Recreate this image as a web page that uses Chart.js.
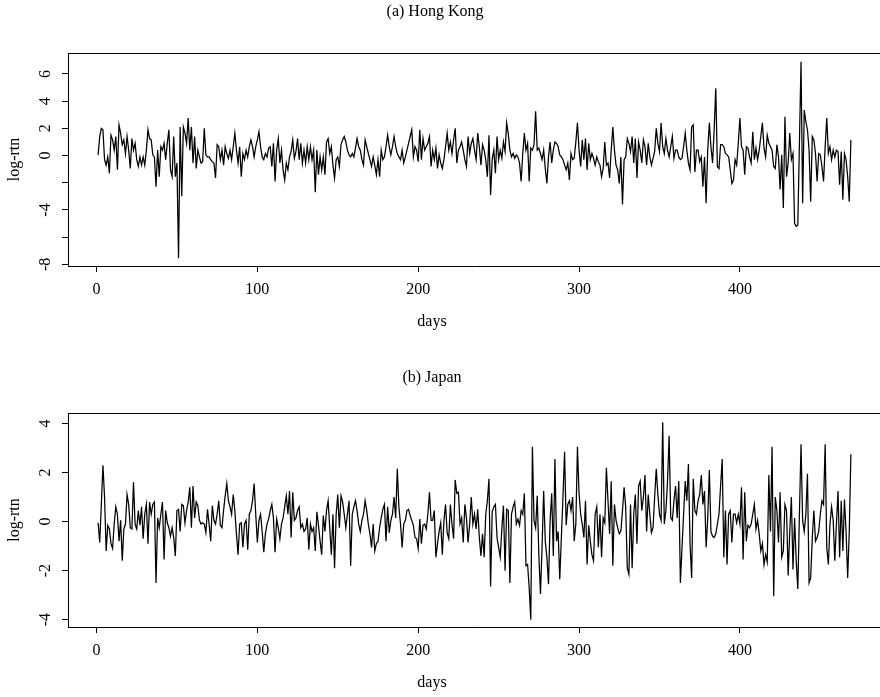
<!DOCTYPE html>
<html><head><meta charset="utf-8">
<script src="https://cdn.jsdelivr.net/npm/chart.js@4/dist/chart.umd.min.js"></script>
<style>
html,body{margin:0;padding:0;background:#fff;overflow:hidden;width:880px;height:697px;}
#wrap{position:relative;width:880px;height:697px;}
.cv{position:absolute;left:0;}
.lbl{position:absolute;font-family:"Liberation Serif","Times New Roman",serif;font-size:16px;line-height:20px;color:#000;white-space:nowrap;transform:translateX(-50%);}
</style></head><body>
<div id="wrap">
<div class="cv" style="top:0;width:880px;height:348px"><canvas id="c1"></canvas></div>
<div class="cv" style="top:360px;width:880px;height:337px"><canvas id="c2"></canvas></div>
<div class="lbl" style="left:435px;top:1px">(a) Hong Kong</div>
<div class="lbl" style="left:432px;top:311px">days</div>
<div class="lbl" style="left:432px;top:367px">(b) Japan</div>
<div class="lbl" style="left:432px;top:672px">days</div>
</div>
<script>
const hkTitle = "(a) Hong Kong";
const jpTitle = "(b) Japan";
const xTicks = [0, 100, 200, 300, 400];
const hkYTicks = [-8, -6, -4, -2, 0, 2, 4, 6];
const hkYLabels = [6, 4, 2, 0, -4, -8];
const jpYTicks = [-4, -2, 0, 2, 4];
const jpYLabels = [-4, -2, 0, 2, 4];

const hkReturns = [
0.05,1.4,2.0,1.9,-0.3,-0.7,-0.1,-1.3,1.5,1.15,
0.4,1.4,-1.05,2.25,1.65,0.8,1.15,0.15,1.4,0.4,
-0.95,1.25,0.4,0.9,-0.3,-0.8,-0.1,-0.7,-0.1,-0.7,
0.4,1.9,1.25,1.15,0.05,-0.1,-2.3,0.4,-1.55,0.65,
0.4,0.9,-0.3,0.9,1.9,-1.05,-1.55,1.4,-1.55,-0.55,
-7.55,2.1,-3.0,2.1,1.65,0.9,2.75,0.4,2.1,-0.55,
1.4,-0.95,0.4,-0.1,-0.55,-0.45,2.0,0.05,-0.1,-0.1,
-0.3,-0.45,-0.55,-1.65,0.8,0.65,-0.3,0.4,-0.7,0.65,
0.15,-0.2,0.4,-0.3,0.65,1.65,0.4,-0.55,0.65,-1.55,
0.15,-0.3,0.4,-0.1,0.65,1.15,
0.65,-0.1,0.65,1.15,1.75,0.65,-0.1,-0.3,0.15,-0.1,
0.55,0.65,-0.8,0.9,-1.9,0.4,1.25,-0.55,0.4,-1.05,
-1.8,-0.55,-1.05,-0.1,0.3,1.15,-0.2,0.3,1.25,-0.3,
0.9,-0.55,0.4,-0.55,0.65,-0.3,0.65,-0.3,0.4,-2.7,
0.4,-1.4,-0.1,-1.05,-0.1,-1.4,1.0,1.25,0.15,0.65,
-0.7,-1.65,-0.3,-0.1,-0.8,0.8,1.15,1.4,1.0,0.4,
0.05,-0.1,0.15,-0.1,0.55,1.25,0.65,0.4,-0.3,-0.7,
1.15,0.65,0.15,-0.3,-0.8,-0.1,-0.7,-1.4,-0.3,-1.55,
0.4,-0.3,-0.1,0.65,1.5,0.65,0.05,0.65,1.4,0.65,
0.15,-0.1,-0.3,0.4,-0.55,-0.1,0.4,0.9,1.4,1.9,
-0.1,0.65,0.4,-0.45,1.9,-0.3,1.25,0.4,0.65,0.9,
1.4,-0.8,0.4,-0.3,0.55,-0.95,0.05,-0.55,-0.95,-0.3,
0.65,1.65,0.4,1.0,0.15,1.15,2.0,-0.55,0.4,0.65,
1.0,0.4,-0.3,-0.8,1.4,0.15,0.9,1.25,0.4,-0.3,
1.65,0.65,-0.7,0.8,0.4,-0.3,-1.55,1.5,-2.9,-0.3,
0.4,-1.3,1.4,-0.3,0.4,-0.2,1.0,0.3,2.4,1.6,
0.4,-0.1,0.15,-0.2,0.05,-0.1,-0.55,-1.9,0.15,1.65,
0.4,0.9,-1.9,0.55,0.4,0.8,3.25,0.4,0.55,0.15,
-0.3,0.4,-0.95,-2.05,-0.1,1.0,-0.55,0.4,1.0,0.9,
0.65,0.05,-0.1,-0.3,-0.7,-1.05,-0.55,-1.8,0.15,-0.3,
-0.2,1.0,2.4,0.4,-0.8,1.15,-0.3,1.25,-1.05,0.9,
-0.3,0.15,-0.2,-0.7,-0.1,-0.45,-0.7,-1.55,-0.95,1.0,
-0.7,-0.55,-1.65,0.4,2.1,0.4,-0.7,-1.05,-2.05,-0.1,
-3.6,-0.3,-0.1,1.25,0.9,0.3,1.4,-0.55,1.25,-1.65,
1.0,0.4,-0.55,1.15,0.65,-0.7,0.9,-0.1,-0.7,-0.2,
0.3,2.0,0.9,0.3,2.4,0.65,0.15,1.25,0.4,-0.1,
0.65,1.4,-0.2,0.4,0.4,-0.1,-0.3,-0.2,0.65,1.65,
0.4,-0.55,-1.05,2.1,2.25,-1.2,0.4,0.4,-0.45,-0.1,
-2.3,-0.1,-3.5,0.4,2.4,0.65,-0.55,1.9,4.95,-0.8,
-0.95,0.8,0.8,0.65,0.15,0.05,-0.1,-1.05,-2.05,-1.8,
-0.3,-0.7,0.9,2.75,0.65,0.4,-1.4,0.65,0.55,-0.1,
-0.55,1.75,-0.3,0.55,-0.3,0.4,1.4,2.4,0.55,-0.1,
1.5,0.9,0.65,0.4,-0.8,-0.95,0.8,-0.1,-2.5,0.05,
-3.85,2.85,-1.55,-0.55,1.65,-0.3,0.15,-5.0,-5.2,-5.1,
0.9,6.9,-3.5,3.35,2.5,1.9,0.4,-3.4,1.4,1.15,
0.15,-1.9,0.15,0.05,-0.8,-1.9,0.65,2.75,0.15,0.65,
-0.3,0.4,-0.1,0.4,0.3,-2.15,0.3,-3.25,0.15,-0.3,
-1.55,-3.4,1.15
];

const jpReturns = [
-0.05,-0.85,0.7,2.3,1.0,-1.2,-0.15,-0.3,-0.9,-1.1,
-0.1,0.6,0.3,-0.8,0.05,-1.6,-0.3,-0.1,1.1,0.7,
-0.25,-0.3,1.6,-0.1,-0.3,0.45,-0.15,0.6,-0.7,0.3,
0.7,-0.9,0.8,0.3,0.7,0.8,-2.5,0.15,-0.25,0.3,
0.8,-1.55,0.45,-0.05,-0.25,-0.6,-0.25,-0.65,-1.4,0.45,
0.5,-0.4,0.7,0.65,-0.05,0.45,0.8,1.4,-0.25,1.45,
0.15,0.8,0.65,0.05,-0.1,-0.05,-0.1,-0.45,0.5,-0.1,
-0.8,0.65,0.05,-0.1,0.3,0.85,-0.15,-0.25,0.45,1.05,
1.55,0.85,0.6,0.3,1.1,0.45,-0.5,-1.35,-0.1,-0.05,
-1.05,-0.1,0.05,-1.15,0.3,0.45,
0.85,1.55,0.3,-0.85,0.05,0.3,-0.4,-1.25,-0.5,-0.1,
0.1,0.45,0.7,0.15,-1.25,0.1,-0.25,-0.7,-0.1,0.15,
0.6,1.05,0.3,1.25,-0.65,1.2,0.05,0.15,0.45,0.6,
-0.25,-0.1,-0.4,-0.3,0.15,-1.15,-0.1,-0.4,-0.25,-1.2,
0.4,-0.15,-0.8,-1.35,0.25,-0.4,0.45,0.85,-0.25,-1.35,
0.3,-1.9,0.3,1.1,-0.25,1.05,0.8,0.3,-0.25,0.3,
0.85,-1.8,0.3,0.6,0.85,0.45,-0.1,-0.4,0.05,0.3,
0.85,0.45,-0.1,-0.5,-1.05,-0.1,-1.2,-0.9,-0.8,-0.25,
0.15,0.5,0.7,-0.8,0.6,-0.45,0.05,0.3,1.0,0.15,
2.15,0.6,-0.1,-1.05,-0.1,0.05,0.45,0.5,0.25,0.05,
-0.15,-0.65,-0.7,-1.1,0.1,-0.9,-0.15,-0.1,-0.3,0.3,
1.2,0.05,0.05,0.45,-1.45,-0.9,-0.4,-0.05,-1.35,0.05,
0.7,-0.45,-0.7,0.7,-0.1,-0.7,1.7,1.15,1.2,-0.1,
0.15,-0.85,0.7,0.15,-0.85,-0.1,1.0,-0.1,0.3,-0.3,
0.5,-0.65,-1.4,-0.5,-1.45,0.3,0.85,1.75,-2.65,0.4,
0.6,0.7,-0.65,-1.05,-1.45,-0.3,0.65,-2.0,0.5,0.45,
-2.5,0.3,0.6,0.8,-0.1,0.1,-0.15,0.45,0.3,1.15,
-1.8,-1.75,-2.7,-4.0,3.05,0.05,-0.25,1.05,-1.35,-2.95,
-1.05,1.25,-0.8,-1.45,-2.55,0.05,1.15,-1.4,2.55,-0.8,
-0.4,-2.35,-0.65,1.0,2.85,-0.15,0.7,0.85,0.45,1.0,
-0.8,-0.1,3.05,1.15,0.3,-0.1,-0.65,0.85,-1.75,-0.15,
-0.8,-1.35,-1.6,0.3,0.6,-1.05,0.3,-1.45,0.15,-0.05,
2.2,0.85,-0.5,1.65,-1.8,0.7,0.05,-0.25,-0.5,-0.4,
0.45,1.4,0.6,-1.9,-2.15,0.7,-1.9,0.3,1.1,-0.9,
1.45,1.65,0.45,1.0,1.9,-0.4,1.1,0.3,-0.45,-0.25,
1.0,2.15,1.1,0.3,0.05,4.05,-0.1,0.45,1.65,3.5,
0.15,0.05,0.85,1.45,0.15,1.65,-2.5,-1.05,0.3,1.65,
0.85,2.35,-0.9,-2.3,1.75,0.45,0.3,0.85,1.1,1.9,
0.7,1.25,-1.05,0.15,2.1,-0.4,-0.6,-0.65,-0.5,-0.1,
0.3,1.45,2.55,-1.45,0.45,-1.75,0.3,0.45,-0.85,0.3,
0.3,-0.05,0.3,-0.1,1.4,-1.55,1.2,-0.8,-0.15,-0.25,
-0.1,0.3,0.7,-0.3,0.05,-0.5,-1.2,-0.9,-1.75,-1.35,
-1.65,1.9,-0.4,3.05,-3.05,1.0,0.45,-0.85,1.2,-1.45,
-1.2,0.7,0.45,-2.2,-0.4,1.0,-1.95,0.15,-1.6,-2.75,
0.3,3.15,0.05,-0.4,0.3,1.95,-2.5,-2.3,-0.65,0.45,
-0.8,-0.65,-0.4,0.3,0.85,0.7,3.15,-1.05,-1.75,-0.1,
0.6,0.05,-1.6,-0.1,1.25,-1.45,0.85,-1.2,0.9,-0.4,
-2.3,-0.4,2.75
];

const hkDays = hkReturns.map((_, i) => i + 1);
const jpDays = jpReturns.map((_, i) => i + 1);

const FONT = { family: '"Liberation Serif","Times New Roman",serif', size: 16 };

const framePlugin = {
  id: 'frameTop',
  afterDraw(chart) {
    const a = chart.chartArea, ctx = chart.ctx;
    const y = Math.round(a.top) + 0.5;
    ctx.save();
    ctx.strokeStyle = '#000';
    ctx.lineWidth = 1;
    ctx.beginPath();
    ctx.moveTo(a.left, y);
    ctx.lineTo(chart.width, y);
    ctx.stroke();
    ctx.restore();
  }
};

function makeChart(id, title, days, values, yMin, yMax, yTicks, yShown, padTop, xAxisH) {
  return new Chart(document.getElementById(id), {
    type: 'line',
    data: {
      datasets: [{
        label: title,
        data: values.map((v, i) => ({ x: days[i], y: v })),
        borderColor: '#000',
        borderWidth: 1.25,
        pointRadius: 0,
        pointHoverRadius: 0,
        tension: 0,
        fill: false
      }]
    },
    options: {
      responsive: true,
      maintainAspectRatio: false,
      animation: false,
      events: [],
      layout: { padding: { top: padTop, left: 0, right: 0, bottom: 0 } },
      plugins: { legend: { display: false }, title: { display: false }, tooltip: { enabled: false } },
      scales: {
        x: {
          type: 'linear', min: -17.72, max: 487.1,
          afterFit(s) { s.height = xAxisH; },
          afterBuildTicks(s) { s.ticks = xTicks.map(v => ({ value: v })); },
          grid: { display: true, drawOnChartArea: false, drawTicks: true, tickLength: 6, tickColor: '#000', tickWidth: 1 },
          border: { display: true, color: '#000', width: 1 },
          ticks: { color: '#000', font: FONT, padding: 8, minRotation: 0, maxRotation: 0, autoSkip: false, callback: v => String(v) }
        },
        y: {
          type: 'linear', min: yMin, max: yMax,
          afterFit(s) { s.width = 68; },
          afterBuildTicks(s) { s.ticks = yTicks.map(v => ({ value: v })); },
          grid: { display: true, drawOnChartArea: false, drawTicks: true, tickLength: 6, tickColor: '#000', tickWidth: 1 },
          border: { display: true, color: '#000', width: 1 },
          ticks: { color: '#000', font: FONT, padding: 10, minRotation: 90, maxRotation: 90, crossAlign: 'center', autoSkip: false,
                   callback: v => (yShown.includes(v) ? String(v) : '') },
          title: { display: true, text: 'log-rtn', color: '#000', font: FONT, padding: { top: 5, bottom: 0 } }
        }
      }
    },
    plugins: [framePlugin]
  });
}

makeChart('c1', hkTitle, hkDays, hkReturns, -8.12, 7.54, hkYTicks, hkYLabels, 53, 82);
makeChart('c2', jpTitle, jpDays, jpReturns, -4.30, 4.43, jpYTicks, jpYLabels, 53, 70);
</script>
</body></html>
